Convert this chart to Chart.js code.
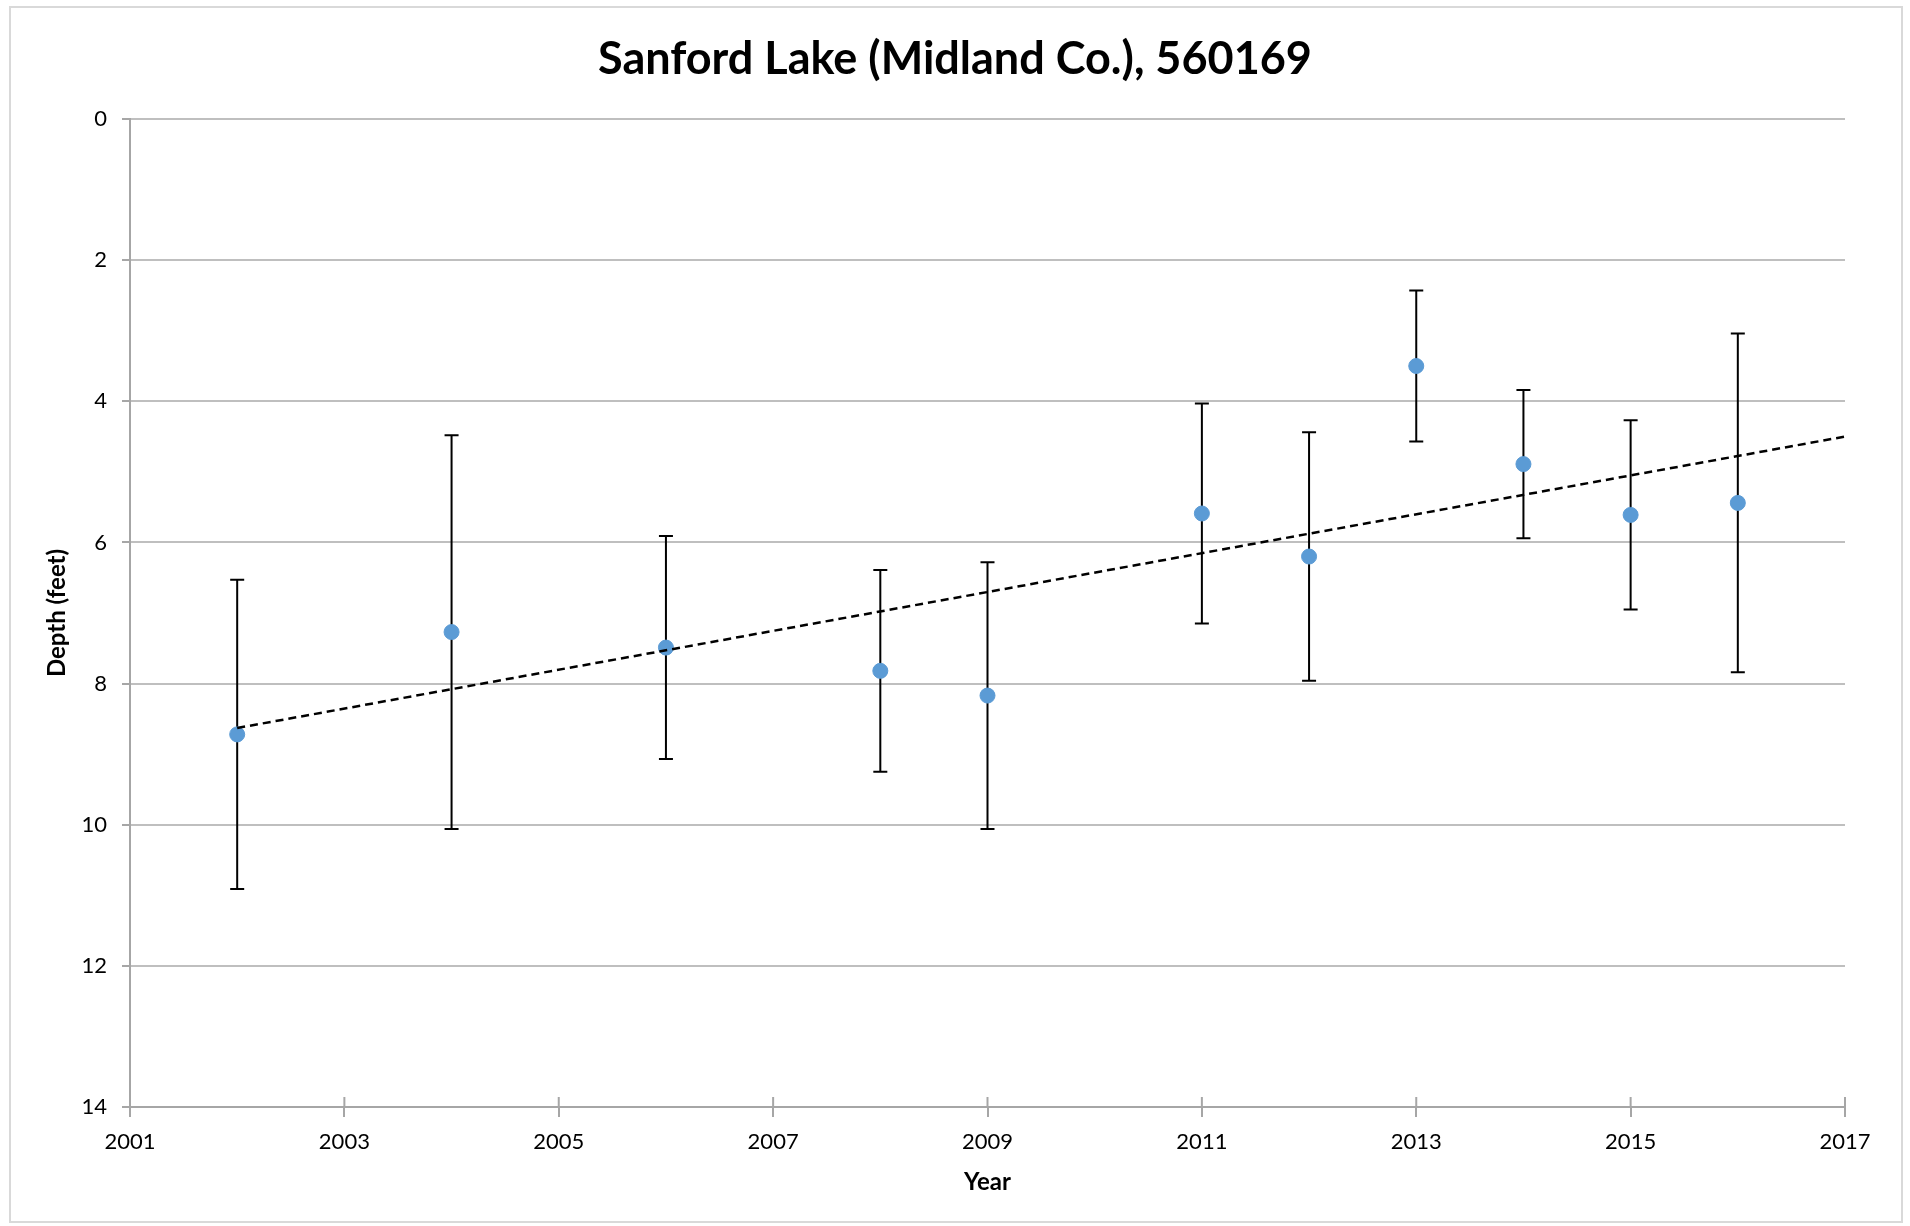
<!DOCTYPE html>
<html>
<head>
<meta charset="utf-8">
<script src="https://cdn.jsdelivr.net/npm/chart.js@4"></script>
<style>
  html, body { margin: 0; padding: 0; background: #fff; }
  #wrap { width: 1910px; height: 1226px; }
</style>
</head>
<body>
<div id="wrap"><canvas id="chart" width="1910" height="1226"></canvas></div>
<script>
// values
const years = [2002, 2004, 2006, 2008, 2009, 2011, 2012, 2013, 2014, 2015, 2016];
const depths = [8.72, 7.27, 7.49, 7.82, 8.17, 5.59, 6.20, 3.50, 4.89, 5.61, 5.44];
const errs = [2.19, 2.79, 1.58, 1.43, 1.89, 1.56, 1.76, 1.07, 1.05, 1.34, 2.40];
const trendYears = [2002, 2017];
const trendDepths = [8.63, 4.50];
const FONT = 'Lato, "Open Sans", sans-serif';

// frame around the whole chart
const framePlugin = {
    id: 'frame',
    beforeDraw(chart) {
        const ctx = chart.ctx;
        ctx.save();
        ctx.fillStyle = '#fff';
        ctx.fillRect(0, 0, chart.width, chart.height);
        ctx.strokeStyle = '#d9d9d9';
        ctx.lineWidth = 2;
        ctx.strokeRect(10, 7, chart.width - 18, chart.height - 11);
        ctx.restore();
    }
};

// error bars + x tick marks above the axis
const errorBarPlugin = {
    id: 'errorBars',
    beforeDatasetsDraw(chart) {
        const ctx = chart.ctx;
        const x = chart.scales.x, y = chart.scales.y;
        ctx.save();
        ctx.strokeStyle = '#000';
        ctx.lineWidth = 2;
        years.forEach((yr, i) => {
            const px = x.getPixelForValue(yr);
            const top = y.getPixelForValue(depths[i] - errs[i]);
            const bot = y.getPixelForValue(depths[i] + errs[i]);
            ctx.beginPath();
            ctx.moveTo(px, top); ctx.lineTo(px, bot);
            ctx.moveTo(px - 7, top); ctx.lineTo(px + 7, top);
            ctx.moveTo(px - 7, bot); ctx.lineTo(px + 7, bot);
            ctx.stroke();
        });
        ctx.strokeStyle = '#a6a6a6';
        ctx.lineWidth = 2;
        x.ticks.forEach(t => {
            const px = x.getPixelForValue(t.value);
            ctx.beginPath();
            ctx.moveTo(px, x.top - 10); ctx.lineTo(px, x.top);
            ctx.stroke();
        });
        ctx.restore();
    }
};

new Chart(document.getElementById('chart'), {
    type: 'scatter',
    data: {
        datasets: [
            {
                label: 'Depth',
                data: years.map((yr, i) => ({ x: yr, y: depths[i] })),
                backgroundColor: '#5b9bd5',
                borderColor: '#5b9bd5',
                pointRadius: 7.5,
                pointHoverRadius: 7.5,
                order: 2
            },
            {
                label: 'Trend',
                type: 'line',
                data: trendYears.map((yr, i) => ({ x: yr, y: trendDepths[i] })),
                borderColor: '#000',
                borderWidth: 2.5,
                borderDash: [8, 5],
                pointRadius: 0,
                fill: false,
                order: 1
            }
        ]
    },
    options: {
        responsive: false,
        animation: false,
        // symmetric side padding keeps the title centred on the canvas
        layout: { padding: { top: 20, left: 65, right: 65, bottom: 10 } },
        plugins: {
            legend: { display: false },
            tooltip: { enabled: false },
            title: {
                display: true,
                text: 'Sanford Lake (Midland Co.), 560169',
                color: '#000',
                font: { family: FONT, size: 45, weight: 'bold' },
                padding: { top: 12, bottom: 33 }
            }
        },
        scales: {
            x: {
                type: 'linear',
                min: 2001, max: 2017,
                ticks: { stepSize: 2, color: '#000', font: { family: FONT, size: 22 }, padding: 12,
                         callback: v => String(v) },
                grid: { drawOnChartArea: false, drawTicks: true, tickLength: 10, color: '#a6a6a6', lineWidth: 2 },
                border: { color: '#a6a6a6', width: 2 },
                title: { display: true, text: 'Year', color: '#000',
                         font: { family: FONT, size: 24, weight: 'bold' }, padding: { top: 0, bottom: 19 } },
                afterFit: s => { s.height = 109; }
            },
            y: {
                type: 'linear',
                reverse: true,
                min: 0, max: 14,
                ticks: { stepSize: 2, color: '#000', font: { family: FONT, size: 22 }, padding: 15 },
                grid: { color: '#bfbfbf', lineWidth: 2, tickLength: 8, tickColor: '#a6a6a6' },
                border: { color: '#a6a6a6', width: 2 },
                title: { display: true, text: 'Depth (feet)', color: '#000',
                         font: { family: FONT, size: 24, weight: 'bold' }, padding: { top: -22, bottom: 0 } },
                afterFit: s => { s.width = 65; }
            }
        }
    },
    plugins: [framePlugin, errorBarPlugin]
});
</script>
</body>
</html>
